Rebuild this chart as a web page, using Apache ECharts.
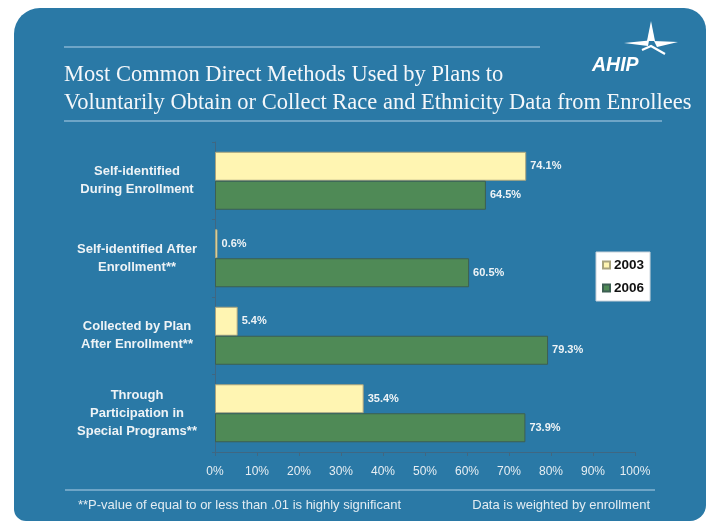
<!DOCTYPE html>
<html>
<head>
<meta charset="utf-8">
<script src="https://cdn.jsdelivr.net/npm/echarts@6/dist/echarts.min.js"></script>
<style>
  html, body { margin: 0; padding: 0; background: #ffffff; }
  #chart { width: 710px; height: 523px; }
</style>
</head>
<body>
<div id="chart"></div>
<script>
// Survey categories (top to bottom) and shares of plans, in percent
const categories = [
  'Self-identified\nDuring Enrollment',
  'Self-identified After\nEnrollment**',
  'Collected by Plan\nAfter Enrollment**',
  'Through\nParticipation in\nSpecial Programs**'
];
const values2003 = [74.1, 0.6, 5.4, 35.4];
const values2006 = [64.5, 60.5, 79.3, 73.9];
const seriesNames = ['2003', '2006'];

const titleLines = [
  'Most Common Direct Methods Used by Plans to',
  'Voluntarily Obtain or Collect Race and Ethnicity Data from Enrollees'
];
const footLeft = '**P-value of equal to or less than .01 is highly significant';
const footRight = 'Data is weighted by enrollment';

const panelBlue = '#2a79a6';
const ruleBlue = '#86b4d2';

const chart = echarts.init(document.getElementById('chart'), null, { renderer: 'canvas' });

const barLabel = {
  show: true,
  position: 'right',
  distance: 4,
  formatter: '{c}%',
  color: '#eef3f6',
  fontFamily: 'Liberation Sans, Arial, sans-serif',
  fontWeight: 'bold',
  fontSize: 11
};

chart.setOption({
  backgroundColor: '#ffffff',
  animation: false,
  graphic: [
    // rounded blue panel
    { type: 'rect', z: -10, shape: { x: 14, y: 8, width: 692, height: 513, r: [26, 22, 16, 12] },
      style: { fill: panelBlue } },
    // rules above and below the title
    { type: 'line', shape: { x1: 64, y1: 47, x2: 540, y2: 47 }, style: { stroke: ruleBlue, lineWidth: 1.5 } },
    { type: 'line', shape: { x1: 64, y1: 121, x2: 662, y2: 121 }, style: { stroke: ruleBlue, lineWidth: 1.5 } },
    { type: 'line', shape: { x1: 65, y1: 490, x2: 655, y2: 490 }, style: { stroke: ruleBlue, lineWidth: 1.5 } },
    // title
    { type: 'text', left: 64, top: 64, style: { text: titleLines[0], fill: '#f4f7fa',
      font: '22.5px "Liberation Serif", "Times New Roman", serif' } },
    { type: 'text', left: 64, top: 92, style: { text: titleLines[1], fill: '#f4f7fa',
      font: '22.5px "Liberation Serif", "Times New Roman", serif' } },
    // logo mark: spike, two arms and a lower swoosh
    { type: 'polygon', shape: { points: [[647, 41], [651, 21], [655, 41]] }, style: { fill: '#ffffff' } },
    { type: 'polygon', shape: { points: [[624, 43], [649, 40.5], [648, 46]] }, style: { fill: '#ffffff' } },
    { type: 'polygon', shape: { points: [[654, 41], [678, 42], [657, 47]] }, style: { fill: '#ffffff' } },
    { type: 'polyline', shape: { points: [[642, 50], [651, 46], [665, 54]] },
      style: { stroke: '#ffffff', lineWidth: 2.2, fill: 'none' } },
    { type: 'text', left: 592, top: 56, style: { text: 'AHIP', fill: '#ffffff',
      font: 'italic bold 19.5px "Liberation Sans", Arial, sans-serif' } },
    // footnotes
    { type: 'text', left: 78, top: 499, style: { text: footLeft, fill: '#e3ecf2',
      font: '13px "Liberation Sans", Arial, sans-serif' } },
    { type: 'text', right: 60, top: 499, style: { text: footRight, fill: '#e3ecf2',
      font: '13px "Liberation Sans", Arial, sans-serif', textAlign: 'right' } }
  ],
  legend: {
    data: seriesNames,
    orient: 'vertical',
    left: 596,
    top: 252,
    backgroundColor: '#ffffff',
    borderColor: '#c8d2da',
    borderWidth: 1,
    borderRadius: 0,
    padding: [6, 6, 6, 6],
    itemGap: 9,
    itemWidth: 7,
    itemHeight: 7,
    icon: 'rect',
    textStyle: { color: '#111111', fontWeight: 'bold', fontSize: 13.5,
      fontFamily: 'Liberation Sans, Arial, sans-serif', padding: [0, 0, 0, -1] }
  },
  grid: { left: 215, right: 75, top: 142, height: 310, containLabel: false },
  xAxis: {
    type: 'value',
    min: 0,
    max: 100,
    interval: 10,
    axisLine: { show: true, lineStyle: { color: '#3f6782', width: 1 } },
    axisTick: { show: true, length: 4, lineStyle: { color: '#3f6782' } },
    splitLine: { show: false },
    axisLabel: {
      formatter: '{value}%',
      margin: 14,
      color: '#e6eef3',
      fontSize: 12,
      fontFamily: 'Liberation Sans, Arial, sans-serif'
    }
  },
  yAxis: {
    type: 'category',
    data: categories,
    inverse: true,
    axisLine: { show: true, lineStyle: { color: '#3f6782', width: 1 } },
    axisTick: { show: true, length: 3, lineStyle: { color: '#3f6782' } },
    axisLabel: {
      margin: 78,
      align: 'center',
      lineHeight: 18,
      color: '#eef3f6',
      fontWeight: 'bold',
      fontSize: 13,
      fontFamily: 'Liberation Sans, Arial, sans-serif'
    }
  },
  series: [
    {
      name: seriesNames[0],
      type: 'bar',
      data: values2003,
      barWidth: 29,
      barGap: '0%',
      itemStyle: { color: '#fff5b2', borderColor: '#a9a47e', borderWidth: 1 },
      label: barLabel
    },
    {
      name: seriesNames[1],
      type: 'bar',
      data: values2006,
      barWidth: 29,
      barGap: '0%',
      itemStyle: { color: '#4f8a56', borderColor: '#3d5f52', borderWidth: 1 },
      label: barLabel
    }
  ]
});
</script>
</body>
</html>
